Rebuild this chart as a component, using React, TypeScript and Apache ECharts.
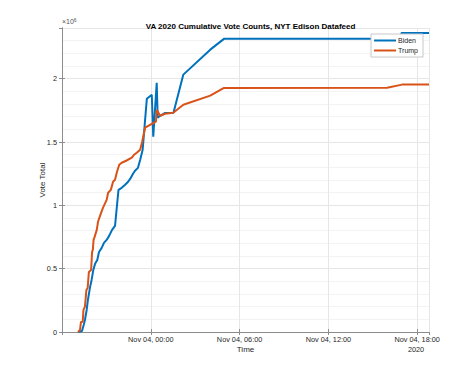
import React, { useEffect, useRef } from "react";
import * as echarts from "echarts";

const titleText = "VA 2020 Cumulative Vote Counts, NYT Edison Datafeed";
const xTickLabels = ["Nov 04, 00:00", "Nov 04, 06:00", "Nov 04, 12:00", "Nov 04, 18:00"];
const yearLabel = "2020";

const bidenTimes = [
  "11-03 19:05", "11-03 19:21", "11-03 19:28", "11-03 19:33", "11-03 19:40", "11-03 19:45",
  "11-03 19:54", "11-03 20:00", "11-03 20:07", "11-03 20:14", "11-03 20:23", "11-03 20:30",
  "11-03 20:41", "11-03 20:50", "11-03 21:01", "11-03 21:11", "11-03 21:23", "11-03 21:35",
  "11-03 21:49", "11-03 22:02", "11-03 22:16", "11-03 22:28", "11-03 22:39", "11-03 22:48",
  "11-03 22:56", "11-03 23:08", "11-03 23:17", "11-03 23:27", "11-03 23:44", "11-04 00:04",
  "11-04 00:10", "11-04 00:24", "11-04 00:28", "11-04 00:38", "11-04 00:58", "11-04 01:32",
  "11-04 02:12", "11-04 04:01", "11-04 04:58", "11-04 16:52", "11-04 16:56", "11-04 18:48",
];
const bidenVotes = [
  0, 8000, 55000, 95000, 174000, 253000,
  356000, 411000, 490000, 538000, 569000, 632000,
  664000, 704000, 727000, 759000, 806000, 838000,
  1122000, 1138000, 1162000, 1186000, 1217000, 1249000,
  1273000, 1296000, 1360000, 1439000, 1842000, 1873000,
  1541000, 1968000, 1692000, 1707000, 1729000, 1731000,
  2032000, 2229000, 2316000, 2316000, 2360000, 2360000,
];

const trumpTimes = [
  "11-03 19:05", "11-03 19:13", "11-03 19:17", "11-03 19:24", "11-03 19:27", "11-03 19:33",
  "11-03 19:39", "11-03 19:44", "11-03 19:49", "11-03 19:58", "11-03 20:02", "11-03 20:05",
  "11-03 20:08", "11-03 20:11", "11-03 20:21", "11-03 20:26", "11-03 20:37", "11-03 20:46",
  "11-03 21:01", "11-03 21:07", "11-03 21:18", "11-03 21:27", "11-03 21:35", "11-03 21:43",
  "11-03 21:52", "11-03 22:02", "11-03 22:20", "11-03 22:43", "11-03 22:52", "11-03 23:03",
  "11-03 23:17", "11-03 23:25", "11-03 23:37", "11-03 23:57", "11-04 00:05", "11-04 00:21",
  "11-04 00:24", "11-04 00:38", "11-04 00:58", "11-04 01:31", "11-04 02:12", "11-04 04:01",
  "11-04 04:55", "11-04 15:58", "11-04 16:59", "11-04 18:48",
];
const trumpVotes = [
  0, 16000, 79000, 81000, 174000, 200000,
  332000, 348000, 474000, 490000, 632000, 648000,
  727000, 743000, 806000, 870000, 933000, 980000,
  1043000, 1099000, 1122000, 1186000, 1202000, 1265000,
  1320000, 1336000, 1352000, 1376000, 1399000, 1415000,
  1439000, 1502000, 1613000, 1636000, 1644000, 1660000,
  1755000, 1707000, 1723000, 1731000, 1794000, 1866000,
  1926000, 1929000, 1953000, 1953000,
];

// hours since Nov 03 18:00
const toHours = (s: string) => {
  const [md, hm] = s.split(" ");
  const day = parseInt(md.split("-")[1], 10);
  const [hh, mm] = hm.split(":").map((v) => parseInt(v, 10));
  return (day - 3) * 24 + hh + mm / 60 - 18;
};

const FONT = "Liberation Sans, Arial, Helvetica, sans-serif";
const TXT = "#262626";
const AXIS = "#8c8c8c";

export default function App() {
  const ref = useRef<HTMLDivElement>(null);
  useEffect(() => {
    if (!ref.current) return;
    document.body.style.margin = "0";
    const chart = echarts.init(ref.current, null, { renderer: "svg" });
    const biden = bidenTimes.map((t, i) => [toHours(t), bidenVotes[i]]);
    const trump = trumpTimes.map((t, i) => [toHours(t), trumpVotes[i]]);
    const xMin = 0;
    const xMax = 24.8;
    const yMax = 2400000;
    const axisBase = {
      axisLine: { show: true, lineStyle: { color: AXIS, width: 1 } },
      axisTick: { show: true, inside: true, length: 3, lineStyle: { color: AXIS } },
    };
    chart.setOption({
      animation: false,
      backgroundColor: "#ffffff",
      textStyle: { fontFamily: FONT },
      title: {
        text: titleText,
        left: 245.5,
        textAlign: "center",
        top: 17,
        textStyle: { fontFamily: FONT, fontSize: 8, fontWeight: "bold", color: "#000" },
      },
      grid: { left: 62, right: 45, top: 28, bottom: 41, containLabel: false },
      legend: {
        right: 51,
        top: 34,
        orient: "vertical",
        align: "left",
        icon: "rect",
        itemWidth: 22,
        itemHeight: 2,
        itemGap: 3,
        padding: [3, 5, 3, 3],
        backgroundColor: "#ffffff",
        borderColor: "#c8c8c8",
        borderWidth: 1,
        borderRadius: 0,
        textStyle: { fontFamily: FONT, fontSize: 7, color: TXT, padding: [0, 0, 0, -3] },
        data: ["Biden", "Trump"],
      },
      xAxis: [
        {
          type: "value",
          min: xMin,
          max: xMax,
          interval: 6,
          ...axisBase,
          axisLabel: {
            show: true,
            margin: 4,
            fontSize: 7.3,
            color: TXT,
            fontFamily: FONT,
            showMinLabel: false,
            showMaxLabel: false,
            formatter: (v: number) => {
              const idx = Math.round(v / 6) - 1;
              return idx >= 0 && idx < xTickLabels.length && Math.abs(v - Math.round(v / 6) * 6) < 1e-6
                ? xTickLabels[idx]
                : "";
            },
          },
          splitLine: { show: true, lineStyle: { color: "#e6e6e6", width: 1 } },
          name: "Time",
          nameLocation: "middle",
          nameGap: 13,
          nameMoveOverlap: false,
          nameTextStyle: { fontFamily: FONT, fontSize: 8, color: TXT },
        },
        {
          type: "value",
          position: "top",
          min: xMin,
          max: xMax,
          interval: 6,
          ...axisBase,
          axisLabel: { show: false },
          splitLine: { show: false },
        },
      ],
      yAxis: [
        {
          type: "value",
          min: 0,
          max: yMax,
          interval: 500000,
          ...axisBase,
          axisLabel: {
            show: true,
            margin: 5,
            fontSize: 7.3,
            color: TXT,
            fontFamily: FONT,
            showMaxLabel: false,
            formatter: (v: number) => (v % 500000 === 0 ? String(v / 1000000) : ""),
          },
          splitLine: { show: true, lineStyle: { color: "#e6e6e6", width: 1 } },
          minorTick: { show: false, splitNumber: 5 },
          minorSplitLine: { show: true, lineStyle: { color: "#f3f3f3", width: 1 } },
          name: "Vote Total",
          nameLocation: "middle",
          nameGap: 16,
          nameMoveOverlap: false,
          nameTextStyle: { fontFamily: FONT, fontSize: 8, color: TXT },
        },
        {
          type: "value",
          position: "right",
          min: 0,
          max: yMax,
          interval: 500000,
          ...axisBase,
          axisLabel: { show: false },
          splitLine: { show: false },
        },
      ],
      graphic: [
        {
          type: "text",
          x: 62,
          y: 26,
          style: {
            text: "×10{s|6}",
            fontFamily: FONT,
            fontSize: 7,
            fill: "#555",
            textVerticalAlign: "bottom",
            rich: { s: { fontSize: 5, verticalAlign: "top", padding: [0, 0, 4, 0], fill: "#555" } },
          },
        },
        {
          type: "text",
          x: 416,
          y: 349,
          style: {
            text: yearLabel,
            fontFamily: FONT,
            fontSize: 7.3,
            fill: TXT,
            textAlign: "center",
            textVerticalAlign: "middle",
          },
        },
      ],
      series: [
        {
          name: "Biden",
          type: "line",
          data: biden,
          showSymbol: false,
          symbol: "none",
          lineStyle: { color: "#0072BD", width: 2 },
          itemStyle: { color: "#0072BD" },
        },
        {
          name: "Trump",
          type: "line",
          data: trump,
          showSymbol: false,
          symbol: "none",
          lineStyle: { color: "#D95319", width: 2 },
          itemStyle: { color: "#D95319" },
        },
      ],
    });
    return () => chart.dispose();
  }, []);
  return <div ref={ref} style={{ width: 474, height: 373 }} />;
}
